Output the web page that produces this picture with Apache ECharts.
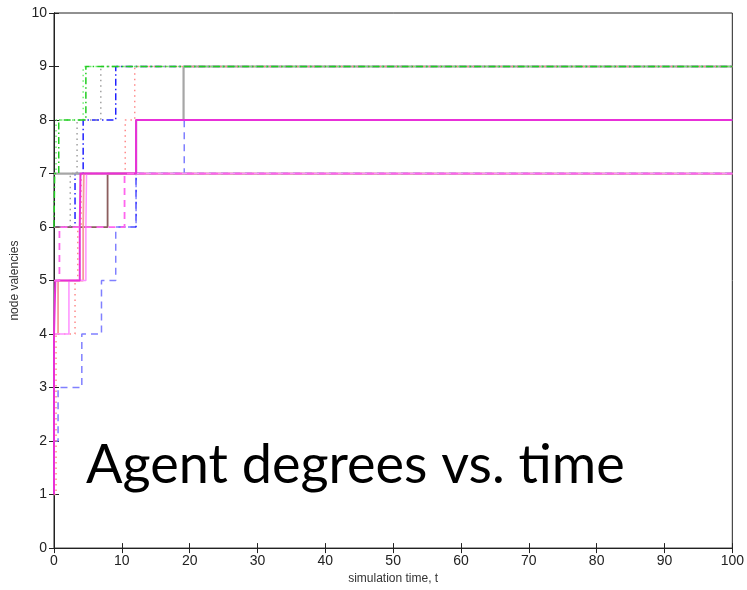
<!DOCTYPE html>
<html>
<head>
<meta charset="utf-8">
<script src="https://cdn.jsdelivr.net/npm/echarts@6/dist/echarts.min.js"></script>
<style>
  html, body { margin: 0; padding: 0; background: #fff; }
  #main { width: 747px; height: 590px; }
</style>
</head>
<body>
<div id="main"></div>
<script>
// step data: [time, valency]
var brownLine = [[0, 6], [7.9, 7], [100, 7]];
var grayLine = [[0, 7], [12.1, 8], [19.1, 9], [100, 9]];
var magentaLine = [[0, 1], [0, 4], [0.2, 5], [3.8, 6], [3.9, 7], [12.1, 8], [100, 8]];
var pinkLine = [[0, 4], [2.2, 5], [4.7, 6], [4.8, 7], [100, 7]];
var salmonLine = [[0, 4], [0.6, 5], [4.3, 6], [4.4, 7], [100, 7]];
var salmonDot = [[0, 1], [0.3, 4], [3.1, 5], [3.5, 6], [4.0, 7], [10.5, 8], [11.9, 9], [100, 9]];
var lightBlueDash = [[0, 2], [0.6, 3], [4.1, 4], [7.0, 5], [9.1, 6], [12.1, 7], [19.2, 8], [100, 8]];
var darkBlueDash = [[9.5, 6], [12.1, 7], [100, 7]];
var blueDashDot = [[0, 6], [3.1, 7], [4.3, 8], [9.1, 9], [100, 9]];
var greenDashDot = [[0, 6], [0.1, 7], [0.7, 8], [4.7, 9], [100, 9]];
var lightGreenDot = [[0, 7], [0.3, 8], [4.3, 9], [100, 9]];
var grayDot = [[0, 6], [2.4, 7], [3.4, 8], [6.9, 9], [100, 9]];
var pinkDash = [[0, 5], [0.8, 6], [10.4, 7], [100, 7]];

var xTicks = [0, 10, 20, 30, 40, 50, 60, 70, 80, 90, 100];
var yTicks = [0, 1, 2, 3, 4, 5, 6, 7, 8, 9, 10];

function stepSeries(data, color, width, dash) {
    return {
        type: 'line',
        step: 'end',
        data: data,
        symbol: 'none',
        silent: true,
        animation: false,
        lineStyle: { color: color, width: width, type: dash }
    };
}

var myChart = echarts.init(document.getElementById('main'));
var tickFont = { color: '#222', fontSize: 14, fontFamily: 'Liberation Sans, Arial, sans-serif' };

var option = {
    backgroundColor: '#fff',
    animation: false,
    grid: { left: 54, right: 13, top: 13, bottom: 41, show: true, borderColor: '#222', borderWidth: 1 },
    xAxis: [
        {
            type: 'value', min: xTicks[0], max: xTicks[xTicks.length - 1], interval: 10,
            name: 'simulation time, t', nameLocation: 'middle', nameGap: 22,
            nameTextStyle: { color: '#333', fontSize: 12, fontFamily: 'Liberation Sans, Arial, sans-serif' },
            axisLine: { show: true, lineStyle: { color: '#222' } },
            axisTick: { show: true, inside: true, length: 5, lineStyle: { color: '#222' } },
            axisLabel: Object.assign({ margin: 6 }, tickFont),
            splitLine: { show: false }
        },
        {
            type: 'value', min: xTicks[0], max: xTicks[xTicks.length - 1], interval: 10, position: 'top',
            axisLine: { show: true, lineStyle: { color: '#222' } },
            axisTick: { show: true, inside: true, length: 5, lineStyle: { color: '#222' } },
            axisLabel: { show: false },
            splitLine: { show: false }
        }
    ],
    yAxis: [
        {
            type: 'value', min: yTicks[0], max: yTicks[yTicks.length - 1], interval: 1,
            name: 'node valencies', nameLocation: 'middle', nameGap: 31,
            nameTextStyle: { color: '#333', fontSize: 12, fontFamily: 'Liberation Sans, Arial, sans-serif' },
            axisLine: { show: true, lineStyle: { color: '#222' } },
            axisTick: { show: true, inside: true, length: 5, lineStyle: { color: '#222' } },
            axisLabel: Object.assign({ margin: 7 }, tickFont),
            splitLine: { show: false }
        },
        {
            type: 'value', min: yTicks[0], max: yTicks[yTicks.length - 1], interval: 1, position: 'right',
            axisLine: { show: true, lineStyle: { color: '#222' } },
            axisTick: { show: true, inside: true, length: 5, lineStyle: { color: '#222' } },
            axisLabel: { show: false },
            splitLine: { show: false }
        }
    ],
    series: [
        stepSeries(blueDashDot, '#2020ff', 1.5, [7, 3, 1.5, 3]),
        stepSeries(grayLine, '#a6a6a6', 2.2, 'solid'),
        stepSeries(brownLine, '#8c5e5e', 1.8, 'solid'),
        stepSeries(darkBlueDash, '#2a2aff', 1.5, [7, 5]),
        stepSeries(lightBlueDash, '#8080ff', 1.5, [7, 5]),
        stepSeries(grayDot, '#a0a0a0', 1.5, [1.5, 4]),
        stepSeries(salmonDot, '#ff8a8a', 1.5, [1.5, 4]),
        stepSeries(lightGreenDot, '#70f070', 1.5, [1.5, 4]),
        stepSeries(greenDashDot, '#20cc20', 1.5, [7, 3, 1.5, 3]),
        stepSeries(salmonLine, '#f59a9a', 1.8, 'solid'),
        stepSeries(pinkLine, '#ff90ff', 1.5, 'solid'),
        stepSeries(magentaLine, '#e830d8', 2, 'solid'),
        stepSeries(pinkDash, '#ff66ee', 1.8, [7, 5])
    ],
    graphic: [
        {
            type: 'text', left: 86, top: 439, silent: true,
            style: { text: 'Agent degrees vs. time', fill: '#000', font: '54px Lato, "Open Sans", sans-serif' }
        }
    ]
};

myChart.setOption(option);
</script>
</body>
</html>
